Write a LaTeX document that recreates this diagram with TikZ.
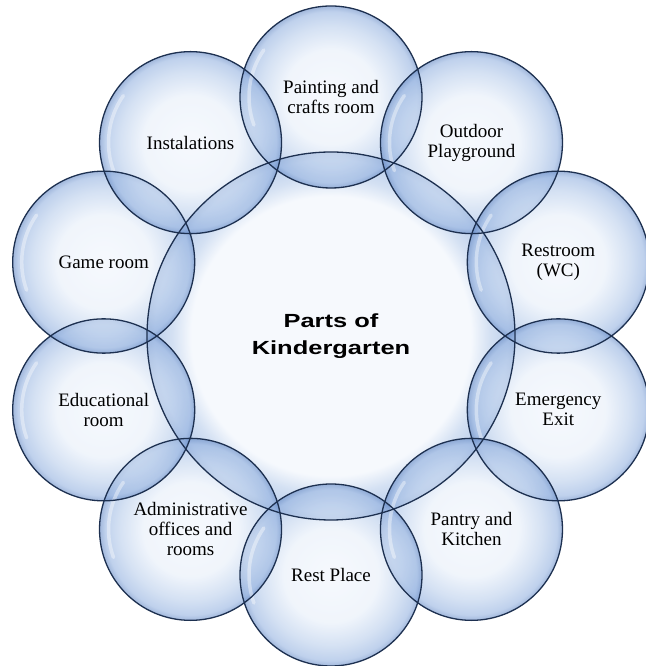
\documentclass[tikz,border=0pt]{standalone}
\usepackage{fontspec}
\setmainfont{Liberation Serif}
\newfontfamily\headfont{Liberation Sans}
\usetikzlibrary{calc}
\definecolor{bubA}{HTML}{F0F5FC}
\definecolor{bubB}{HTML}{E6EEF9}
\definecolor{bubC}{HTML}{B8CDEB}
\definecolor{bubD}{HTML}{94B2E0}
\definecolor{bubE}{HTML}{6388C4}
\definecolor{bubline}{HTML}{1D3050}
\pgfdeclareradialshading{bubbleshade}{\pgfpoint{0bp}{0bp}}{color(0bp)=(bubA); color(13bp)=(bubB); color(19.5bp)=(bubC); color(23.5bp)=(bubD); color(25bp)=(bubE); color(50bp)=(bubE)}
\pgfdeclareradialshading{centershade}{\pgfpoint{0bp}{0bp}}{color(0bp)=(bubA); color(19bp)=(bubA); color(21.5bp)=(bubC); color(24bp)=(bubD); color(25bp)=(bubE); color(50bp)=(bubE)}
\tikzset{
  bubble/.style={circle, minimum size=182pt, inner sep=0pt, shade, shading=bubbleshade,
    fill opacity=0.6, text opacity=1, align=center,
    font=\fontsize{19}{20}\selectfont},
  hub/.style={circle, minimum size=368pt, inner sep=0pt, shade, shading=centershade,
    fill opacity=0.6, text opacity=1, align=center,
    font=\headfont\bfseries\fontsize{19}{27}\selectfont},
  rim/.style={draw=bubline, line width=1.3pt},
  gloss/.style={draw=white, line width=3.5pt, line cap=round, opacity=0.4}
}
\begin{document}
\begin{tikzpicture}[x=1pt,y=1pt]
\useasboundingbox (0,0) rectangle (645,666);
\coordinate (O) at (331,330);
\node[hub] (hub) at (O) {\scalebox{1.34}[1]{Parts of}\\\scalebox{1.34}[1]{Kindergarten}};
\node[bubble] (paint) at ($(O)+(90:239)$) {Painting and\\crafts room};
\node[bubble] (outdoor) at ($(O)+(54:239)$) {Outdoor\\Playground};
\node[bubble] (wc) at ($(O)+(18:239)$) {Restroom\\(WC)};
\node[bubble] (exit) at ($(O)+(-18:239)$) {Emergency\\Exit};
\node[bubble] (pantry) at ($(O)+(-54:239)$) {Pantry and\\Kitchen};
\node[bubble] (restp) at ($(O)+(-90:239)$) {Rest Place};
\node[bubble] (admin) at ($(O)+(-126:239)$) {Administrative\\offices and\\rooms};
\node[bubble] (edu) at ($(O)+(-162:239)$) {Educational\\room};
\node[bubble] (game) at ($(O)+(162:239)$) {Game room};
\node[bubble] (inst) at ($(O)+(126:239)$) {Instalations};
\foreach \n in {paint,outdoor,wc,exit,pantry,restp,admin,edu,game,inst}
  \draw[gloss] ($(\n.center)+(145:82)$) arc[start angle=145, end angle=200, radius=82];
\draw[rim] (hub.center) circle (184);
\foreach \n in {paint,outdoor,wc,exit,pantry,restp,admin,edu,game,inst}
  \draw[rim] (\n.center) circle (91);
\end{tikzpicture}
\end{document}
